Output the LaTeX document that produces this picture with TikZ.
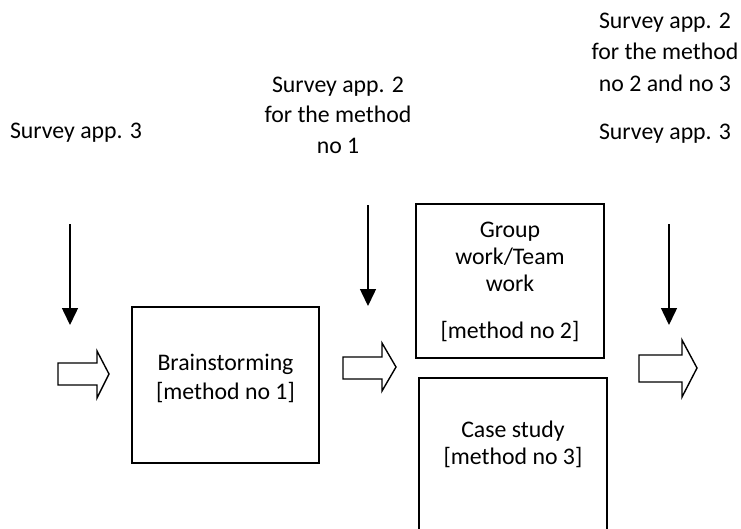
\documentclass[tikz,border=0pt]{standalone}
\usepackage{fontspec}
\setmainfont{Carlito}
\usetikzlibrary{arrows.meta}
\begin{document}
\begin{tikzpicture}[x=1pt,y=-1pt,
  lbl/.style={font=\fontsize{23.8}{30.5}\selectfont, align=center, inner sep=0pt},
  inlbl/.style={font=\fontsize{23.8}{27}\selectfont, align=center, inner sep=0pt},
  methodbox/.style={draw, line width=1.4pt, inner sep=0pt},
  downarrow/.style={line width=1.5pt, -{Triangle[width=16pt,length=17pt]}},
  blockarrow/.style={draw, line width=1.4pt, line join=miter, fill=white}]
\useasboundingbox (0,0) rectangle (741,528);
\clip (0,0) rectangle (741,528);

% boxes
\node[methodbox, minimum width=187pt, minimum height=156pt] (brain) at (225.5,385) {};
\node[methodbox, minimum width=188pt, minimum height=154pt] (group) at (510,281) {};
\draw[line width=1.4pt] (419,545) -- (419,378) -- (607,378) -- (607,545);
\coordinate (case) at (513,450);

% box texts
\node[inlbl] (braintxt) at (225.5,378) {Brainstorming\\[2pt]{}[method no 1]};
\node[inlbl] (grouptxt) at (510,257) {Group\\work/Team\\work};
\node[inlbl] (groupm) at (510,332) {[method no 2]};
\node[inlbl] (casetxt) at (513,444) {Case study\\{}[method no 3]};

% outside texts
\node[lbl] (t1) at (76,133) {Survey app. 3};
\node[lbl] (t2) at (338,115) {Survey app. 2\\for the method\\no 1};
\node[lbl, font=\fontsize{23.8}{31.5}\selectfont] (t3) at (665,52) {Survey app. 2\\for the method\\no 2 and no 3};
\node[lbl] (t4) at (665,134) {Survey app. 3};

% vertical arrows
\coordinate (a1s) at (70,224); \coordinate (a1e) at (70,325);
\coordinate (a2s) at (368,205); \coordinate (a2e) at (368,306);
\coordinate (a3s) at (669,224); \coordinate (a3e) at (669,325);
\draw[downarrow] (a1s) -- (a1e);
\draw[downarrow] (a2s) -- (a2e);
\draw[downarrow] (a3s) -- (a3e);

% block arrows
\draw[blockarrow] (58,363) -- (97,363) -- (97,351) -- (109,374) -- (97,398) -- (97,385) -- (58,385) -- cycle;
\draw[blockarrow] (343,357) -- (382,357) -- (382,343) -- (396,367) -- (382,391) -- (382,379) -- (343,379) -- cycle;
\draw[blockarrow] (639,355) -- (682,355) -- (682,340) -- (697,368) -- (682,397) -- (682,382) -- (639,382) -- cycle;
\end{tikzpicture}
\end{document}
